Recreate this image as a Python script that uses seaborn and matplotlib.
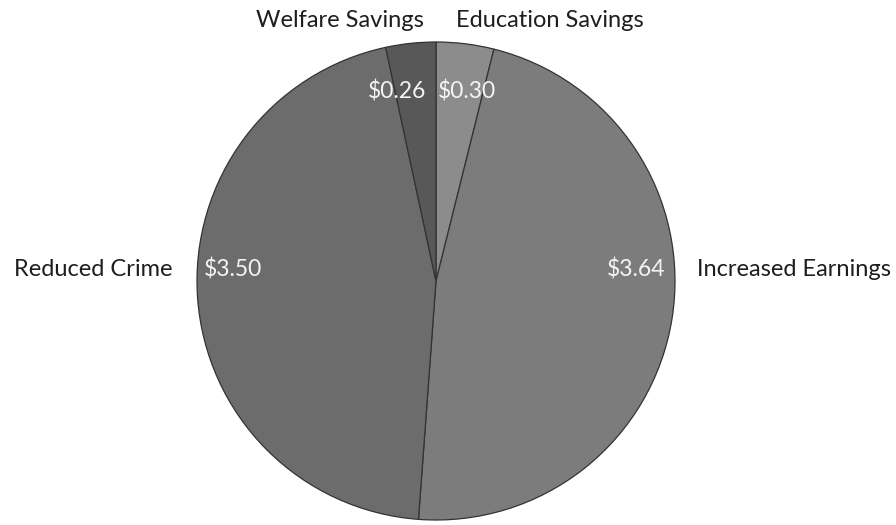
import matplotlib
matplotlib.use("Agg")
import matplotlib.pyplot as plt
import seaborn as sns

categories = ["Education Savings", "Increased Earnings", "Reduced Crime", "Welfare Savings"]
values = [0.30, 3.64, 3.50, 0.26]
value_labels = ["$0.30", "$3.64", "$3.50", "$0.26"]

colors = ["#8c8c8c", "#7c7c7c", "#6c6c6c", "#585858"]

sns.set_theme(style="white")
plt.rcParams['font.family'] = ['Lato', 'DejaVu Sans']

fig = plt.figure(figsize=(8.96, 5.25), dpi=100)
ax = fig.add_axes([0, 0, 1, 1])

R = 239.0
cx, cy = 436.0, 281.0

def px(x, y):
    return ((x - cx) / R, (cy - y) / R)

wedges, texts, autotexts = ax.pie(
    values, labels=categories, colors=colors, startangle=90, counterclock=False,
    autopct=lambda p: "", radius=1.0,
    wedgeprops=dict(edgecolor="#333333", linewidth=0.9),
)

# layout positions (pixels) for category and value labels
cat_pos = [(550, 21, "center"), (697, 270, "left"), (172, 270, "right"), (340, 21, "center")]
val_pos = [(467, 92), (636, 270), (233, 270), (397, 92)]

for t, (x, y, ha) in zip(texts, cat_pos):
    t.set_position(px(x, y))
    t.set_ha(ha)
    t.set_va("center")
    t.set_fontsize(17)
    t.set_color("#1e1e1e")

for t, lab, (x, y) in zip(autotexts, value_labels, val_pos):
    t.set_text(lab)
    t.set_position(px(x, y))
    t.set_ha("center")
    t.set_va("center")
    t.set_fontsize(16.5)
    t.set_color("#f4f4f4")

ax.set_xlim(-cx / R, (896 - cx) / R)
ax.set_ylim(-(525 - cy) / R, cy / R)
ax.set_aspect("equal")
ax.axis("off")

fig.savefig("out.png", dpi=100)
